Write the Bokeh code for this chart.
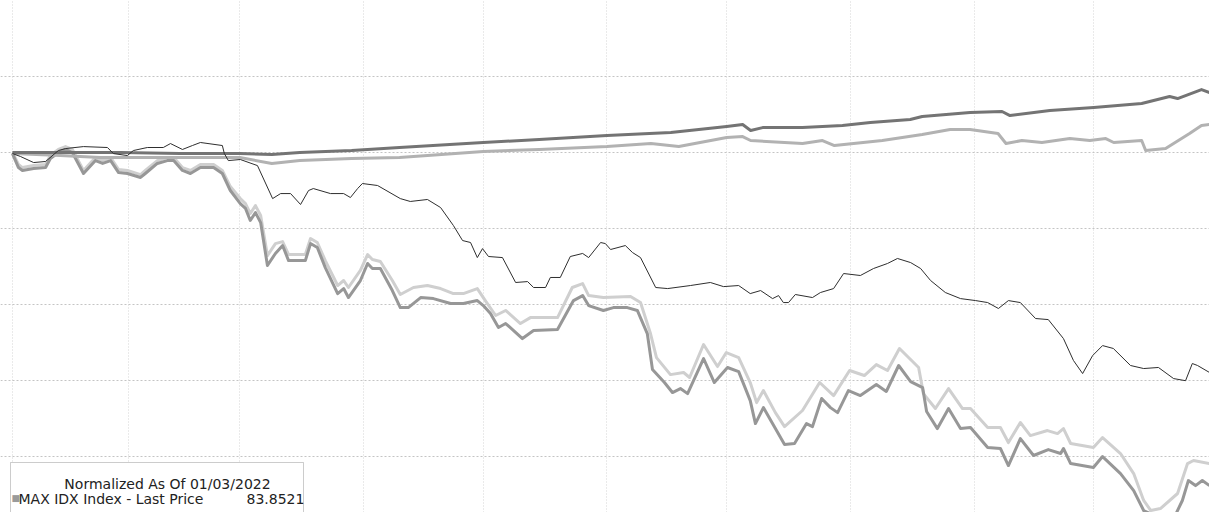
from bokeh.plotting import figure
from bokeh.models import Range1d, FixedTicker, BoxAnnotation, Label
from bokeh.embed import file_html
from bokeh.resources import INLINE

# x = calendar days since 01/03/2022, y = normalized price (100 = 01/03/2022)
days_a = [0, 12, 27, 42, 57, 65, 72, 85, 97, 118, 132, 149, 165, 179, 183, 185, 188, 198, 208, 215,
          225, 228, 240, 248, 250, 260, 271, 283, 290, 292, 298, 300]
vals_a = [100.0, 100.0, 100.0, 99.93, 99.93, 99.87, 100.0, 100.13, 100.33, 100.66, 100.86, 101.12,
          101.32, 101.71, 101.84, 101.45, 101.64, 101.64, 101.78, 101.97, 102.17, 102.37, 102.63,
          102.70, 102.43, 102.76, 102.96, 103.22, 103.68, 103.55, 104.14, 103.95]

days_b = [0, 12, 22, 42, 57, 65, 72, 85, 97, 118, 132, 149, 160, 167, 179, 183, 185, 198, 203, 206,
          218, 228, 235, 240, 247, 249, 253, 258, 265, 270, 274, 276, 283, 284, 289, 295, 298, 300]
vals_b = [99.93, 99.80, 99.67, 99.67, 99.67, 99.28, 99.47, 99.61, 99.67, 100.07, 100.20, 100.39,
          100.59, 100.39, 100.99, 101.05, 100.79, 100.59, 100.79, 100.46, 100.79, 101.18, 101.51,
          101.51, 101.25, 100.59, 100.79, 100.66, 100.92, 100.79, 100.92, 100.66, 100.79, 100.13,
          100.26, 101.25, 101.78, 101.84]

days_c = [0.0, 2.0, 5.3, 8.3, 11.5, 13.3, 17.8, 23.8, 25.3, 28.8, 30.3, 33.8, 37.8, 39.6, 42.6, 45.1,
          47.1, 52.6, 53.1, 54.1, 57.1, 61.4, 65.2, 67.2, 69.7, 72.2, 74.2, 75.4, 79.7, 83.0, 84.7,
          86.5, 87.7, 91.5, 97.2, 99.7, 104.0, 107.3, 110.5, 112.8, 114.8, 116.5, 117.8, 119.3,
          122.8, 126.1, 129.1, 130.6, 133.6, 134.8, 137.3, 139.8, 142.9, 144.4, 147.4, 148.6,
          149.9, 153.6, 155.4, 157.4, 161.2, 164.2, 169.9, 174.9, 178.2, 182.0, 184.9, 187.5,
          190.5, 192.0, 193.2, 194.5, 196.2, 200.5, 202.5, 205.8, 208.3, 212.5, 215.8, 219.3,
          221.8, 225.1, 227.6, 230.1, 233.8, 237.6, 241.4, 244.4, 247.1, 249.6, 252.6, 256.4,
          259.6, 263.4, 265.9, 268.2, 270.7, 273.2, 275.9, 280.2, 283.5, 287.2, 291.0, 294.0,
          295.7, 297.0, 300.0]
vals_c = [99.93, 99.74, 99.34, 99.41, 100.13, 100.26, 100.39, 100.33, 99.93, 99.80, 100.13, 100.33,
          100.33, 100.59, 100.20, 100.46, 100.66, 100.46, 99.93, 99.47, 99.54, 99.14, 96.97, 97.30,
          97.30, 96.58, 97.50, 97.63, 97.30, 97.30, 97.04, 97.63, 97.96, 97.83, 96.97, 96.78,
          96.91, 96.38, 95.20, 94.21, 94.08, 93.09, 93.68, 93.16, 93.09, 91.45, 91.51, 91.12,
          91.12, 91.78, 91.78, 93.16, 93.36, 93.09, 94.08, 94.01, 93.62, 93.88, 93.42, 93.09,
          91.12, 91.05, 91.25, 91.45, 91.18, 91.25, 90.72, 90.92, 90.39, 90.59, 90.13, 90.13,
          90.66, 90.46, 90.79, 91.05, 92.04, 91.91, 92.37, 92.70, 93.03, 92.76, 92.37, 91.58,
          90.79, 90.39, 90.26, 90.13, 89.74, 90.26, 90.13, 89.08, 89.01, 87.76, 86.32, 85.46,
          86.64, 87.30, 87.11, 85.99, 85.79, 85.86, 85.13, 84.99, 86.12, 85.99, 85.53]

days_d = [0.0, 1.5, 2.5, 5.3, 8.3, 9.5, 11.5, 13.3, 15.0, 17.8, 20.8, 22.6, 24.6, 26.6, 28.8, 32.1,
          33.3, 36.3, 38.8, 40.4, 42.6, 44.6, 47.1, 50.4, 52.6, 54.6, 57.1, 58.4, 59.6, 60.9, 62.2,
          63.9, 65.9, 67.7, 69.2, 73.4, 74.7, 76.4, 78.4, 81.5, 83.0, 84.2, 87.2, 89.0, 90.2, 92.2,
          95.2, 97.2, 99.2, 102.3, 105.5, 109.8, 113.0, 116.5, 118.0, 119.8, 121.8, 123.6, 125.6,
          127.8, 130.6, 136.6, 140.6, 142.9, 144.4, 148.1, 150.6, 154.1, 156.6, 159.1, 160.4,
          163.4, 165.4, 167.4, 169.2, 173.2, 175.9, 179.2, 182.0, 184.9, 186.2, 188.2, 190.2,
          193.5, 196.0, 199.0, 200.5, 202.8, 205.0, 206.8, 209.5, 212.5, 216.5, 219.0, 222.1,
          225.1, 228.1, 229.1, 231.8, 234.6, 237.6, 240.1, 244.4, 247.6, 249.6, 252.6, 255.9,
          259.6, 262.7, 263.4, 265.2, 270.9, 273.2, 277.7, 281.0, 283.5, 287.7, 291.5, 293.2,
          294.7, 296.5, 298.2, 300.0]
vals_d = [99.93, 99.01, 98.82, 98.95, 99.01, 99.61, 100.00, 100.20, 100.00, 98.62, 99.47, 99.28,
          99.47, 98.68, 98.62, 98.36, 98.62, 99.28, 99.47, 99.47, 98.82, 98.62, 99.01, 99.01, 98.62,
          97.50, 96.64, 96.32, 95.53, 96.05, 95.39, 92.57, 93.36, 93.88, 92.89, 92.89, 94.01, 93.75,
          92.43, 90.72, 91.05, 90.46, 91.58, 92.70, 92.37, 92.37, 90.92, 89.80, 89.80, 90.46, 90.39,
          90.07, 90.07, 90.26, 89.93, 89.41, 88.49, 88.75, 88.29, 87.76, 88.29, 88.36, 90.26, 90.59,
          89.93, 89.61, 89.80, 89.80, 89.61, 88.09, 85.72, 84.87, 84.21, 84.47, 84.14, 86.45, 84.87,
          85.86, 85.59, 83.68, 82.17, 83.22, 82.30, 80.79, 80.86, 82.17, 81.97, 83.82, 83.22, 82.89,
          84.34, 84.01, 84.74, 84.28, 85.99, 84.93, 84.54, 82.96, 81.84, 83.16, 81.84, 81.91, 80.59,
          80.53, 79.41, 81.18, 80.07, 80.46, 80.20, 80.53, 79.54, 79.28, 80.00, 78.88, 77.76, 76.45,
          75.92, 76.18, 77.11, 78.42, 78.09, 78.42, 78.09]

days_e = [0.0, 1.5, 2.5, 5.3, 8.3, 9.5, 11.5, 13.3, 15.0, 17.8, 20.8, 22.6, 24.6, 26.6, 28.8, 32.1,
          33.3, 36.3, 38.8, 40.4, 42.6, 44.6, 47.1, 50.4, 52.6, 54.6, 57.1, 58.4, 59.6, 60.9, 62.2,
          63.9, 65.9, 67.7, 69.2, 73.4, 74.7, 76.4, 78.4, 81.5, 83.0, 84.2, 87.2, 89.0, 90.2, 92.2,
          95.2, 97.2, 100.5, 104.0, 107.3, 110.5, 113.0, 116.5, 118.5, 121.1, 123.6, 127.3, 129.8,
          136.6, 140.3, 142.9, 144.4, 148.1, 154.9, 157.4, 159.9, 161.4, 164.9, 168.2, 169.7,
          173.2, 176.7, 178.9, 182.0, 184.9, 186.5, 188.2, 191.2, 193.5, 198.0, 202.3, 205.8,
          209.8, 213.5, 216.5, 219.3, 222.3, 227.1, 228.3, 231.3, 234.6, 238.1, 240.1, 244.4,
          247.6, 249.6, 252.6, 255.1, 259.4, 261.9, 263.4, 265.2, 270.9, 273.2, 277.7, 281.0,
          283.5, 285.3, 287.7, 292.0, 294.5, 296.0, 300.0]
vals_e = [100.00, 99.21, 99.01, 99.14, 99.21, 99.80, 100.20, 100.39, 100.20, 98.82, 99.67, 99.47,
          99.67, 98.88, 98.82, 98.55, 98.82, 99.47, 99.67, 99.67, 99.01, 98.82, 99.21, 99.21, 98.82,
          97.76, 96.97, 96.64, 95.99, 96.51, 95.86, 93.22, 94.01, 94.14, 93.29, 93.29, 94.34, 94.08,
          92.89, 91.25, 91.58, 91.12, 92.24, 93.29, 92.96, 92.83, 91.58, 90.66, 91.12, 91.25, 91.05,
          90.72, 90.72, 91.05, 90.26, 89.28, 89.61, 88.75, 89.14, 89.14, 91.12, 91.38, 90.59, 90.46,
          90.53, 90.13, 88.09, 86.51, 85.39, 85.53, 85.20, 87.37, 85.92, 86.84, 86.51, 84.87, 83.55,
          84.34, 82.89, 81.97, 83.03, 84.87, 84.01, 85.66, 85.33, 86.05, 85.66, 87.11, 85.86, 84.14,
          83.16, 84.47, 83.16, 83.16, 81.91, 81.91, 80.92, 82.24, 81.38, 81.71, 81.51, 81.84, 80.86,
          80.59, 81.25, 80.20, 78.88, 77.11, 76.45, 76.58, 77.57, 79.54, 79.74, 79.54]

month_ticks = [0, 29, 57, 88, 118, 149, 179, 210, 241, 271]
level_ticks = [80, 85, 90, 95, 100, 105]

legend_title = "Normalized As Of 01/03/2022"
legend_name = "MAX IDX Index - Last Price"
legend_value = "83.8521"

p = figure(width=1209, height=512, output_backend="svg", toolbar_location=None,
           x_axis_location=None, y_axis_location=None,
           x_range=Range1d(-3.0, 300.0), y_range=Range1d(76.32, 110.0),
           min_border=0, background_fill_color="white", border_fill_color="white")
p.outline_line_color = None

# the figure's own grids (created even without visible axes) get the month / level ticks
p.xgrid.ticker = FixedTicker(ticks=month_ticks)
p.xgrid.grid_line_color = "#d4d4d4"
p.xgrid.grid_line_dash = "1 2"
p.xgrid.grid_line_width = 1
p.ygrid.ticker = FixedTicker(ticks=level_ticks)
p.ygrid.grid_line_color = "#c4c4c4"
p.ygrid.grid_line_dash = "2 2"
p.ygrid.grid_line_width = 1

p.line(days_e, vals_e, line_color="#cfcfcf", line_width=3, line_join="round")
p.line(days_d, vals_d, line_color="#979797", line_width=3, line_join="round")
p.line(days_b, vals_b, line_color="#b2b2b2", line_width=3, line_join="round")
p.line(days_a, vals_a, line_color="#747474", line_width=3, line_join="round")
p.line(days_c, vals_c, line_color="#2e2e2e", line_width=1, line_join="round")

p.add_layout(BoxAnnotation(left=10, right=303, top=50, bottom=-10,
                           left_units="screen", right_units="screen",
                           top_units="screen", bottom_units="screen",
                           fill_color="white", fill_alpha=1.0,
                           line_color="#555555", line_width=1))
font = "DejaVu Sans"
p.add_layout(Label(x=167, y=29, x_units="screen", y_units="screen", text=legend_title,
                   text_font=font, text_font_size="14px", text_color="#222222",
                   text_align="center", text_baseline="alphabetic"))
p.add_layout(Label(x=11, y=15, x_units="screen", y_units="screen", text="\u25a0",
                   text_font=font, text_font_size="9px", text_color="#9a9a9a",
                   text_align="left", text_baseline="alphabetic"))
p.add_layout(Label(x=18, y=14, x_units="screen", y_units="screen", text=legend_name,
                   text_font=font, text_font_size="14px", text_color="#222222",
                   text_align="left", text_baseline="alphabetic"))
p.add_layout(Label(x=246, y=14, x_units="screen", y_units="screen", text=legend_value,
                   text_font=font, text_font_size="14px", text_color="#222222",
                   text_align="left", text_baseline="alphabetic"))

open("out.html", "w").write(file_html(p, INLINE))
